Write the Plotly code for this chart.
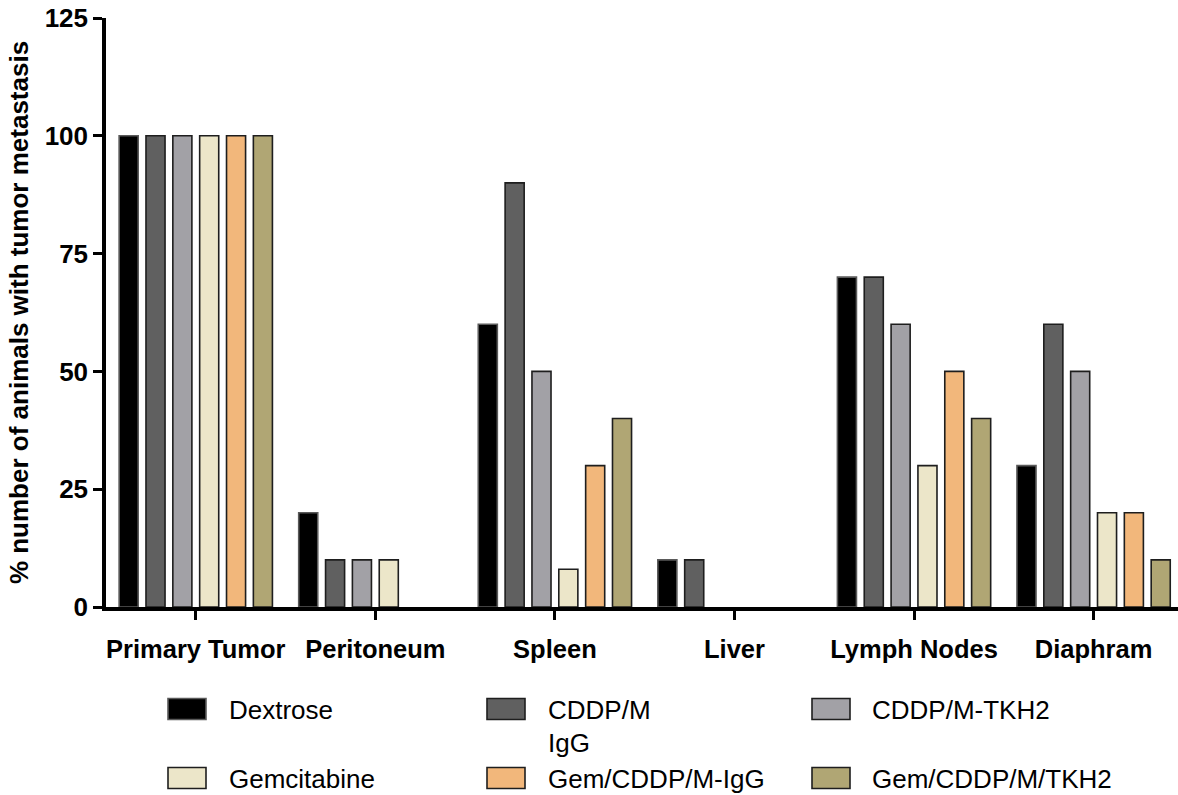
import plotly.graph_objects as go

categories = ["Primary Tumor", "Peritoneum", "Spleen", "Liver", "Lymph Nodes", "Diaphram"]
series_names = ["Dextrose", "CDDP/M IgG", "CDDP/M-TKH2", "Gemcitabine", "Gem/CDDP/M-IgG", "Gem/CDDP/M/TKH2"]
legend_labels = ["Dextrose", "CDDP/M<br>IgG", "CDDP/M-TKH2", "Gemcitabine", "Gem/CDDP/M-IgG", "Gem/CDDP/M/TKH2"]
dextrose = [100, 20, 60, 10, 70, 30]
cddp_igg = [100, 10, 90, 10, 70, 60]
cddp_tkh2 = [100, 10, 50, 0, 60, 50]
gemcitabine = [100, 10, 8, 0, 30, 20]
gem_cddp_igg = [100, 0, 30, 0, 50, 20]
gem_cddp_tkh2 = [100, 0, 40, 0, 40, 10]
y_ticks = [0, 25, 50, 75, 100, 125]

series_values = [dextrose, cddp_igg, cddp_tkh2, gemcitabine, gem_cddp_igg, gem_cddp_tkh2]
fill_colors = ["#000000", "#606060", "#a2a1a6", "#ece6c9", "#f2b77b", "#b0a674"]
line_colors = ["#5a5a5a", "#1e1e1e", "#1e1e1e", "#1e1e1e", "#1e1e1e", "#1e1e1e"]

FONT = "Liberation Sans, Arial, Helvetica, sans-serif"
W, H = 1178, 795
L, T, B = 106, 18, 607

fig = go.Figure()
for name, vals, fc, lc in zip(series_names, series_values, fill_colors, line_colors):
    fig.add_trace(go.Bar(
        name=name, x=categories,
        y=[v if v > 0 else None for v in vals],  # zero-height bars are not drawn
        marker=dict(color=fc, line=dict(color=lc, width=1.6)),
        showlegend=False,
    ))

def px_x(x):
    return (x - L) / (W - L)

def px_y(y):
    return (B - y) / (B - T)

shapes = []
annotations = []
col_swatch_x = [168, 487, 812]
col_text_x = [227, 546, 870]
row_y = [709, 778]
for i, (lab, fc, lc) in enumerate(zip(legend_labels, fill_colors, line_colors)):
    r, c = divmod(i, 3)
    x0 = col_swatch_x[c]
    yc = row_y[r]
    shapes.append(dict(type="rect", xref="paper", yref="paper",
                       x0=px_x(x0), x1=px_x(x0 + 38),
                       y0=px_y(yc - 10.5), y1=px_y(yc + 10.5),
                       fillcolor=fc, line=dict(color=lc, width=1.6)))
    lines = lab.split("<br>")
    for j, ln in enumerate(lines):
        annotations.append(dict(xref="paper", yref="paper",
                                x=px_x(col_text_x[c]), y=px_y(yc + 1 + j * 33),
                                xanchor="left", yanchor="middle", showarrow=False,
                                text=ln, font=dict(family=FONT, size=26, color="#000000")))

fig.update_layout(
    width=W, height=H,
    margin=dict(l=L, r=0, t=T, b=H - B, pad=0),
    paper_bgcolor="white", plot_bgcolor="white",
    barmode="group", bargap=0.103, bargroupgap=0.29,
    shapes=shapes, annotations=annotations,
    font=dict(family=FONT, color="#000000"),
)
fig.update_xaxes(
    range=[-0.5, 5.47], showgrid=False, zeroline=False,
    showline=True, linecolor="#000000", linewidth=3.5,
    ticks="outside", ticklen=9, tickwidth=3, tickcolor="#000000",
    tickfont=dict(family=FONT, size=25.5, weight="bold", color="#000000"),
    ticklabelstandoff=8,
)
fig.update_yaxes(
    range=[0, 125], tickvals=y_ticks, showgrid=False, zeroline=False,
    showline=True, linecolor="#000000", linewidth=3.5,
    ticks="outside", ticklen=9, tickwidth=3, tickcolor="#000000",
    tickfont=dict(family=FONT, size=26, weight="bold", color="#000000"),
    title=dict(text="% number of animals with tumor metastasis",
               font=dict(family=FONT, size=26, weight="bold", color="#000000"),
               standoff=10),
)

fig.write_html("out.html", config={"displayModeBar": False},
               post_script="document.body.style.margin='0px';document.body.style.overflow='hidden';")
